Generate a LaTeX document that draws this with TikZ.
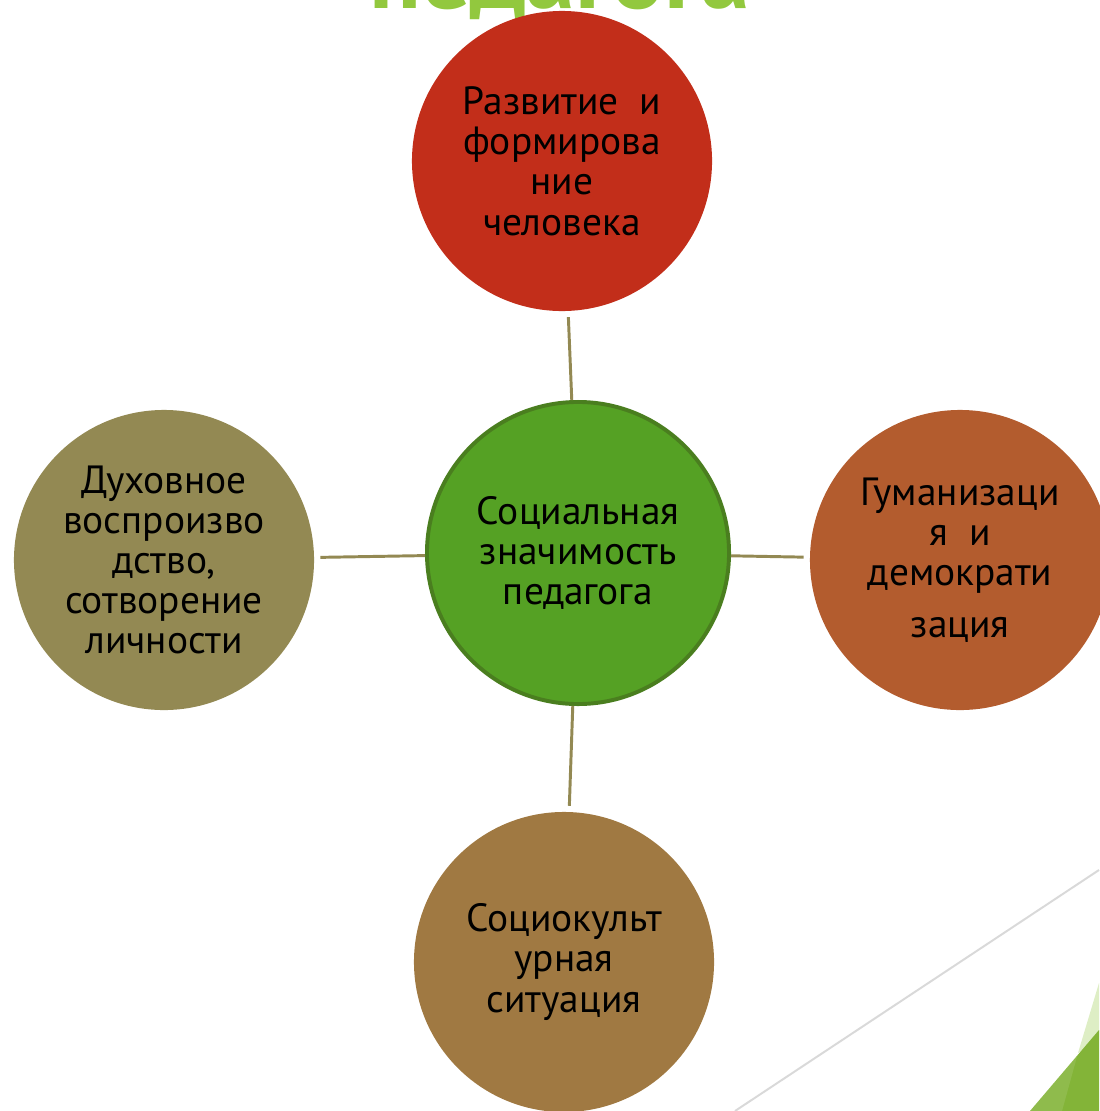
\documentclass[tikz,border=0pt]{standalone}
\usepackage{fontspec}
\setmainfont{PT Sans}
\definecolor{razvc}{HTML}{C22E1A}
\definecolor{socc}{HTML}{55A124}
\definecolor{socline}{HTML}{4A7E1F}
\definecolor{duhc}{HTML}{938953}
\definecolor{gumc}{HTML}{B35C2E}
\definecolor{kultc}{HTML}{A07942}
\definecolor{titlec}{HTML}{92C83E}

\begin{document}
\begin{tikzpicture}
  [x=0.025cm, y=-0.025cm,
   topic/.style={circle, minimum size=7.5cm, inner sep=0pt, align=center,
     font=\fontsize{28}{28.6}\selectfont},
   link/.style={draw=duhc, line width=2.1pt, shorten >=0.15cm}]
  \useasboundingbox (0,0) rectangle (1099,1111);

  \node[anchor=base, text=titlec, font=\fontsize{70}{74}\selectfont\bfseries] (title) at (560,9) {педагога};

  \node[topic, fill=socc, draw=socline, line width=2.8pt, minimum size=7.55cm] (n0) at (578,553)
    {Социальная\\значимость\\педагога};
  \node[topic, fill=razvc] (n1) at (562,161) {Развитие~~и\\формирова\\ние\\человека};
  \node[topic, fill=duhc] (n2) at (164,560) {Духовное\\воспроизво\\дство,\\сотворение\\личности};
  \node[topic, fill=gumc] (n3) at (960,560) {Гуманизаци\\я~~и\\демократи\\[8pt]зация};
  \node[topic, fill=kultc] (n4) at (564,962) {Социокульт\\урная\\ситуация};

  \foreach \to in {n1,n2,n3,n4}
  \draw[link] (n0) -- (\to);

  % corner of the slide
  \draw[color=black!15, line width=1.4pt] (1099,870) -- (735,1111);
  \fill[color=titlec!30] (1099,983) -- (1078,1053) -- (1099,1040) -- cycle;
  \fill[color=titlec!90!black] (1099,1030) -- (1030,1111) -- (1099,1111) -- cycle;
  \fill[color=white, opacity=.1] (1078,1053) -- (1030,1111) -- (1062,1111) -- cycle;
\end{tikzpicture}
\end{document}
